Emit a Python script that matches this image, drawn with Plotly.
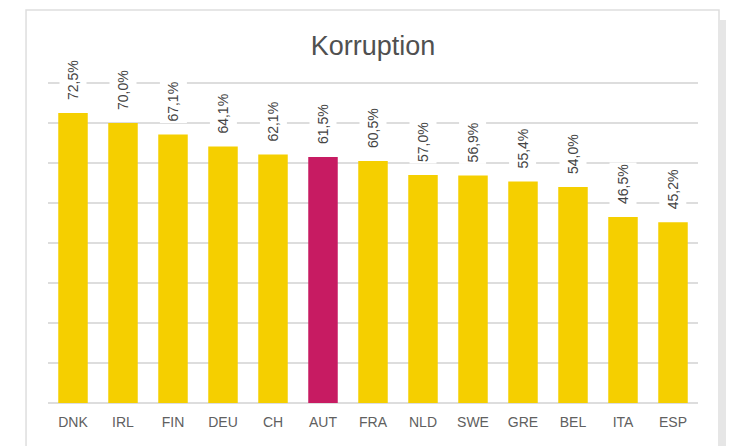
import plotly.graph_objects as go

countries = ["DNK", "IRL", "FIN", "DEU", "CH", "AUT", "FRA", "NLD", "SWE", "GRE", "BEL", "ITA", "ESP"]
values = [72.5, 70.0, 67.1, 64.1, 62.1, 61.5, 60.5, 57.0, 56.9, 55.4, 54.0, 46.5, 45.2]
labels = [f"{v:.1f}%".replace(".", ",") for v in values]
highlight = "AUT"

YELLOW = "#F5CF00"
MAGENTA = "#C71B62"
colors = [MAGENTA if c == highlight else YELLOW for c in countries]

FONT = "Liberation Sans, Arial, sans-serif"

fig = go.Figure()
fig.add_trace(go.Bar(x=countries, y=values, marker=dict(color=colors, line=dict(width=0)),
                     hoverinfo="skip"))

for c, v, t in zip(countries, values, labels):
    fig.add_annotation(x=c, y=v, text=t, showarrow=False, textangle=-90,
                       xanchor="center", yanchor="bottom", yshift=11,
                       bgcolor="white", height=24, borderpad=1,
                       font=dict(family=FONT, size=14, color="#444444"))

# drop shadow and panel border
fig.add_shape(type="rect", xref="paper", yref="paper", x0=1.0338, x1=1.1, y0=-0.3, y1=1.1677,
              fillcolor="#e6e6e6", line=dict(width=0), layer="below")
fig.add_shape(type="rect", xref="paper", yref="paper", x0=-0.0338, x1=1.0323, y0=-0.3, y1=1.198,
              fillcolor="rgba(0,0,0,0)", line=dict(color="#dedede", width=1.5), layer="below")

fig.update_layout(
    width=734, height=446,
    margin=dict(l=40, r=44, t=67, b=51),
    paper_bgcolor="white", plot_bgcolor="white",
    bargap=0.41,
    showlegend=False,
    title=dict(text="Korruption", x=0.5, xref="paper", y=1 - 38 / 446, yref="container",
               xanchor="center", yanchor="middle",
               font=dict(family=FONT, size=27, color="#505050")),
    xaxis=dict(showgrid=False, showline=False, zeroline=False, ticks="",
               ticklabelstandoff=9,
               tickfont=dict(family=FONT, size=14, color="#606060")),
    yaxis=dict(range=[0, 82], dtick=10, showticklabels=False, showgrid=True,
               gridcolor="#dddddd", gridwidth=1.5, zeroline=True, zerolinecolor="#dddddd",
               zerolinewidth=1.5, showline=False, ticks="", fixedrange=True),
)

fig.write_html("out.html")
